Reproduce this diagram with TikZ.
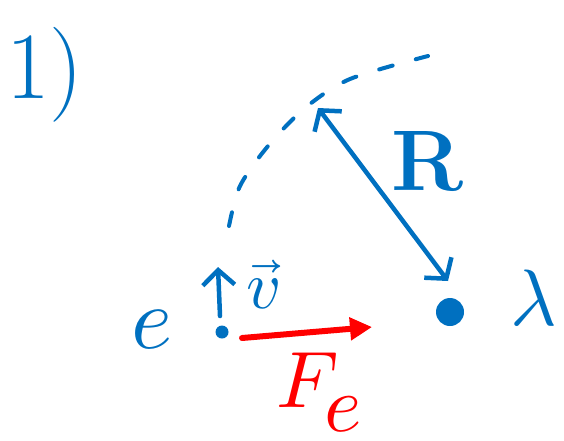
\documentclass[tikz,border=0pt]{standalone}
\usepackage{unicode-math}
\setmathfont{Latin Modern Math}
\usetikzlibrary{arrows.meta}
\definecolor{inkblue}{RGB}{0,112,192}
\definecolor{inkred}{RGB}{255,0,0}
\begin{document}
\begin{tikzpicture}[x=1pt,y=-1pt,
  ink/.style={line width=4.5pt, line cap=round, line join=round, draw=inkblue},
  redink/.style={line width=6pt, line cap=round, line join=round, draw=inkred},
  lbl/.style={inner sep=0pt, text=inkblue}
]
\useasboundingbox (0,0) rectangle (564,440);

% label 1)
\node[lbl, font=\fontsize{95}{95}\selectfont, anchor=base west] (one) at (6,98) {1)};

% dashed arc
\draw[ink, line width=4pt, dash pattern=on 14pt off 24pt]
  plot[smooth] coordinates {(229,226) (240,186) (268,146) (305,108) (350,79) (428,56)};

% charge lambda
\node[circle, fill=inkblue, minimum width=28pt, minimum height=28pt, inner sep=0pt] (lam) at (450,312) {};
\node[lbl, font=\fontsize{80}{80}\selectfont] (lamlbl) at (534,298) {$\lambda$};

% distance R
\coordinate (top) at (318,108);
\coordinate (rend) at (448,281);
\draw[ink, {Straight Barb[length=14pt,width=34pt]}-{Straight Barb[length=14pt,width=34pt]}] (top) -- (rend);
\node[lbl, font=\fontsize{86}{86}\selectfont\bfseries] (rlbl) at (428,162) {R};

% electron
\node[lbl, font=\fontsize{88}{88}\selectfont] (elbl) at (152,330) {$e$};
\node[circle, fill=inkblue, minimum width=13pt, inner sep=0pt] (edot) at (222,332) {};
\coordinate (vtip) at (218,267);
\coordinate (vbase) at (220,316);
\draw[ink, -{Straight Barb[length=15pt,width=32pt]}] (vbase) -- (vtip);
\node[lbl, font=\fontsize{68}{68}\selectfont] (vlbl) at (263,285) {$\vec{v}$};

% force
\coordinate (fs) at (242,338);
\coordinate (fend) at (372,327);
\draw[redink, -{Triangle[length=22pt,width=22pt]}] (fs) -- (fend);
\node[inner sep=0pt, text=inkred, font=\fontsize{80}{80}\selectfont, anchor=base west] (felbl) at (276,407) {$F$\kern-14pt\raisebox{-24pt}{$e$}};
\end{tikzpicture}
\end{document}
